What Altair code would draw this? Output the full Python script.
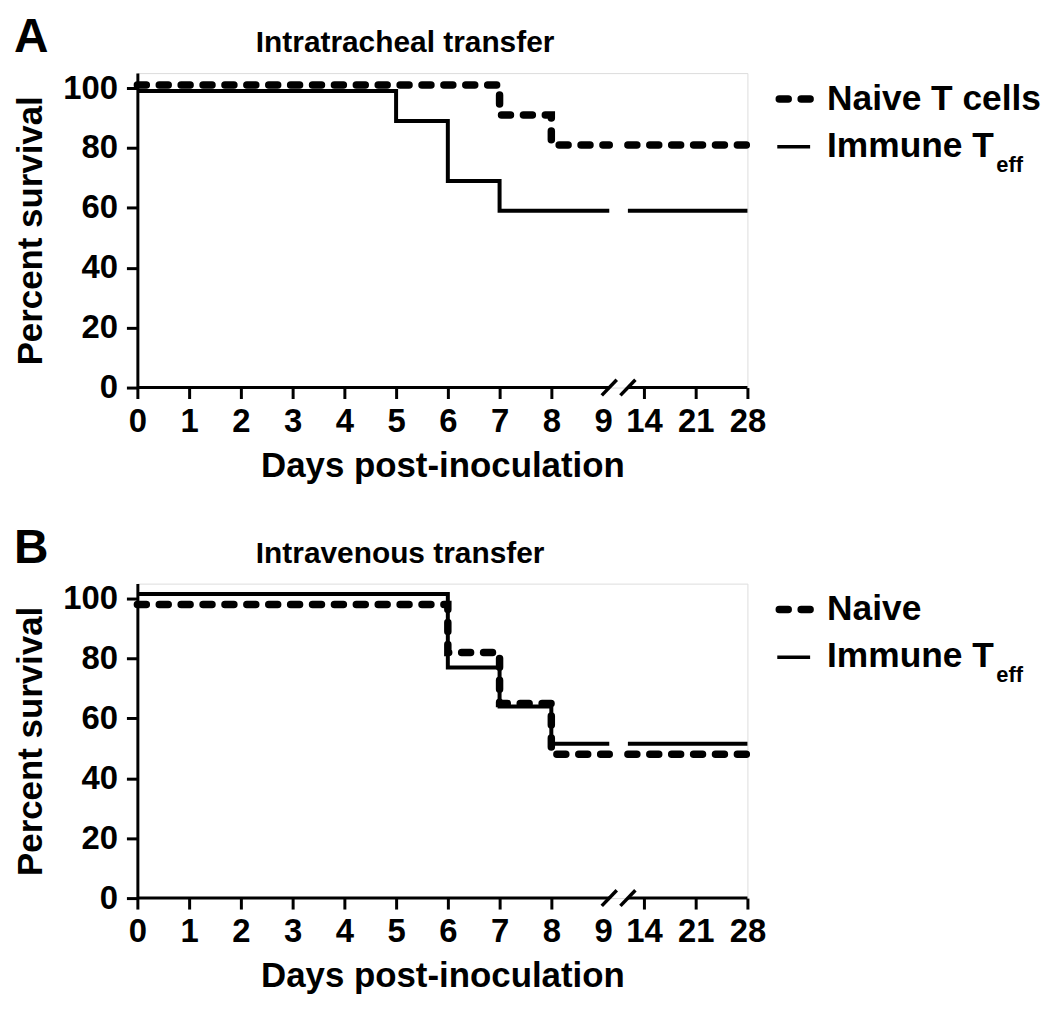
import altair as alt
import pandas as pd

FONT = "Liberation Sans"

# ---- data ----
axis_days = [0, 1, 2, 3, 4, 5, 6, 7, 8, 9, 14, 21, 28]
y_ticks = [0, 20, 40, 60, 80, 100]
end_day = 28

a_naive_days = [0, 7, 8]
a_naive_surv = [101, 91, 81]
a_imm_days = [0, 5, 6, 7]
a_imm_surv = [99, 89, 69, 59]

b_naive_days = [0, 6, 7, 8]
b_naive_surv = [98, 82, 65, 48]
b_imm_days = [0, 6, 7, 8]
b_imm_surv = [101.5, 77, 64, 51.5]

titles = ["Intratracheal transfer", "Intravenous transfer"]
letters = ["A", "B"]
naive_labels = ["Naive T cells", "Naive"]
immune_label = "Immune T"
immune_sub = "eff"
x_title = "Days post-inoculation"
y_title = "Percent survival"

# ---- broken-axis position mapping ----
LINEAR_MAX = 9
P14 = 9.79
BREAK_L = 9.12
BREAK_R = 9.48


def pos(d):
    return d if d <= LINEAR_MAX else P14 + (d - 14) / 7


XMAX = pos(end_day)
W, H = 613, 316


def series_rows(days, surv):
    rows = [dict(x=pos(d), y=s, seg=1) for d, s in zip(days, surv)]
    rows.append(dict(x=BREAK_L, y=surv[-1], seg=1))
    rows.append(dict(x=BREAK_R, y=surv[-1], seg=2))
    rows.append(dict(x=XMAX, y=surv[-1], seg=2))
    return pd.DataFrame(rows)


tick_pos = [pos(d) for d in axis_days]
label_expr = "".join(
    f"abs(datum.value - {p}) < 0.01 ? '{d}' : " for p, d in zip(tick_pos, axis_days)
) + "''"

xscale = alt.Scale(domain=[0, XMAX], nice=False, zero=False)
yscale = alt.Scale(domain=[0, 105], nice=False)

x_axis = alt.Axis(
    values=tick_pos, labelExpr=label_expr, domain=False, grid=False,
    tickSize=11, tickWidth=3, tickColor="black",
    tickOpacity={"condition": {"test": "abs(datum.value - 9) < 0.01", "value": 0}, "value": 1},
    labelFont=FONT, labelFontSize=33, labelFontWeight="bold", labelColor="black",
    labelPadding=7, labelFlush=False, labelOverlap=False,
    title=x_title, titleFont=FONT, titleFontSize=35, titleFontWeight="bold",
    titleColor="black", titlePadding=10,
)
y_axis = alt.Axis(
    values=y_ticks, domain=True, domainWidth=3, domainColor="black", grid=False,
    tickSize=11, tickWidth=3, tickColor="black",
    labelFont=FONT, labelFontSize=33, labelFontWeight="bold", labelColor="black",
    labelPadding=9,
    title=y_title, titleFont=FONT, titleFontSize=35, titleFontWeight="bold",
    titleColor="black", titlePadding=14,
)


def text_layer(texts, xs, ys, size):
    return alt.Chart(pd.DataFrame({"t": texts, "xx": xs, "yy": ys})).mark_text(
        font=FONT, fontSize=size, fontWeight="bold", align="left",
        baseline="alphabetic", color="black",
    ).encode(
        text="t:N",
        x=alt.X("xx:Q", scale=None),
        y=alt.Y("yy:Q", scale=None),
    )


def panel(idx, nd, ns, idays, isurv):
    naive = series_rows(nd, ns)
    imm = series_rows(idays, isurv)

    solid = alt.Chart(imm).mark_line(
        interpolate="step-after", color="black", strokeWidth=4
    ).encode(
        x=alt.X("x:Q", scale=xscale, axis=x_axis),
        y=alt.Y("y:Q", scale=yscale, axis=y_axis),
        detail="seg:N",
    )
    dashed = alt.Chart(naive).mark_line(
        interpolate="step-after", color="black", strokeWidth=7.5,
        strokeDash=[9, 13], strokeCap="round",
    ).encode(x="x:Q", y="y:Q", detail="seg:N")

    axis_line = alt.Chart(pd.DataFrame({
        "x": [0, BREAK_R], "x2": [BREAK_L, XMAX], "y": [0, 0]
    })).mark_rule(color="black", strokeWidth=3).encode(x="x:Q", x2="x2:Q", y="y:Q")

    slashes = alt.Chart(pd.DataFrame({
        "x": [BREAK_L - 0.145, BREAK_R - 0.145],
        "x2": [BREAK_L + 0.145, BREAK_R + 0.145],
        "y": [-2.6, -2.6], "y2": [2.6, 2.6],
    })).mark_rule(color="black", strokeWidth=3.5).encode(
        x="x:Q", x2="x2:Q", y="y:Q", y2="y2:Q")

    letter = text_layer([letters[idx]], [-124], [-21], 48)
    title = text_layer([titles[idx]], [119], [-21], 30)

    leg_sym_dash = alt.Chart(pd.DataFrame({"t": [0]})).mark_rule(
        color="black", strokeWidth=7.5, strokeDash=[9, 13], strokeCap="round"
    ).encode(x=alt.value(645), x2=alt.value(676), y=alt.value(26))
    leg_sym_solid = alt.Chart(pd.DataFrame({"t": [0]})).mark_rule(
        color="black", strokeWidth=3.5
    ).encode(x=alt.value(643), x2=alt.value(676), y=alt.value(74))

    leg_text = text_layer([naive_labels[idx], immune_label], [693, 693], [37, 84], 35.5)
    leg_sub = text_layer([immune_sub], [863], [99], 22)

    return alt.layer(
        solid, dashed, axis_line, slashes, letter, title,
        leg_sym_dash, leg_sym_solid, leg_text, leg_sub,
    ).properties(width=W, height=H)


chart = alt.vconcat(
    panel(0, a_naive_days, a_naive_surv, a_imm_days, a_imm_surv),
    panel(1, b_naive_days, b_naive_surv, b_imm_days, b_imm_surv),
    spacing=40,
).properties(
    background="white",
    padding={"left": 5, "top": 3, "right": 0, "bottom": 5},
).configure_view(stroke=None).configure(font=FONT)

chart.save("out.html", embed_options={"renderer": "svg", "actions": False})
